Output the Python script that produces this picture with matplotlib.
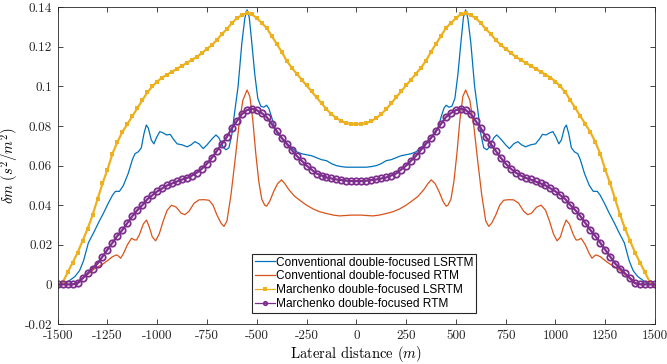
import matplotlib
matplotlib.use("Agg")
import matplotlib.pyplot as plt
import numpy as np

# left half of each curve (x <= 0), mirrored for the right half
x_grid = list(range(-1500, 1, 25))

march_lsrtm = [-0.001, 0.001, 0.006, 0.011, 0.016, 0.022, 0.028, 0.035, 0.043, 0.051,
               0.058, 0.066, 0.072, 0.077, 0.081, 0.085, 0.089, 0.093, 0.097, 0.100,
               0.1025, 0.1045, 0.106, 0.1075, 0.109, 0.1105, 0.112, 0.1135, 0.115, 0.117,
               0.119, 0.121, 0.1235, 0.1265, 0.129, 0.132, 0.1345, 0.136, 0.137, 0.1365,
               0.1345, 0.132, 0.1295, 0.1255, 0.1215, 0.1175, 0.113, 0.1095, 0.1065, 0.1035,
               0.1005, 0.0975, 0.0945, 0.0915, 0.0885, 0.086, 0.084, 0.0825, 0.0815, 0.081,
               0.081]

march_rtm = [0, 0, 0, 0, 0.0005, 0.003, 0.0055, 0.008, 0.0105, 0.014,
             0.0175, 0.021, 0.0245, 0.0275, 0.031, 0.0345, 0.0375, 0.040, 0.043, 0.045,
             0.047, 0.0485, 0.050, 0.051, 0.052, 0.053, 0.0538, 0.055, 0.0565, 0.0585,
             0.061, 0.064, 0.0675, 0.071, 0.0745, 0.079, 0.0825, 0.086, 0.088, 0.0888,
             0.088, 0.0865, 0.0845, 0.081, 0.0775, 0.074, 0.071, 0.068, 0.065, 0.0625,
             0.060, 0.058, 0.056, 0.055, 0.054, 0.0535, 0.053, 0.0527, 0.0524, 0.0522,
             0.0522]

conv_lsrtm_x = [-1500, -1475, -1460, -1440, -1413, -1390, -1370, -1346, -1320, -1296,
                -1270, -1246, -1225, -1210, -1190, -1170, -1146, -1125, -1112, -1095,
                -1080, -1067, -1055, -1045, -1030, -1017, -1002, -987, -970, -953,
                -935, -920, -900, -875, -850, -830, -811, -790, -769, -750,
                -725, -705, -690, -670, -655, -640, -625, -610, -594, -575,
                -560, -549, -538, -525, -510, -495, -480, -465, -451, -440,
                -427, -410, -395, -375, -350, -325, -300, -275, -250, -225,
                -200, -175, -150, -125, -100, -75, -50, -25, 0]
conv_lsrtm = [0, 0, 0.0005, 0.002, 0.004, 0.007, 0.012, 0.021, 0.026, 0.031,
              0.036, 0.041, 0.045, 0.047, 0.047, 0.050, 0.056, 0.063, 0.066, 0.067,
              0.069, 0.076, 0.0805, 0.079, 0.073, 0.071, 0.0745, 0.0772, 0.0765, 0.0755,
              0.0758, 0.0735, 0.071, 0.0705, 0.0695, 0.0705, 0.0721, 0.071, 0.0686, 0.0705,
              0.0735, 0.0755, 0.074, 0.0695, 0.068, 0.069, 0.076, 0.088, 0.100, 0.122,
              0.1345, 0.1387, 0.135, 0.122, 0.106, 0.094, 0.090, 0.0895, 0.0905, 0.089,
              0.085, 0.079, 0.076, 0.074, 0.0715, 0.069, 0.067, 0.066, 0.0655, 0.065,
              0.064, 0.063, 0.0625, 0.061, 0.060, 0.0595, 0.0592, 0.0592, 0.0592]

conv_rtm_x = [-1500, -1475, -1450, -1420, -1400, -1380, -1350, -1320, -1296, -1270,
              -1246, -1225, -1204, -1195, -1184, -1170, -1150, -1129, -1115, -1104,
              -1090, -1070, -1054, -1040, -1025, -1008, -990, -970, -950, -928,
              -905, -880, -861, -840, -815, -790, -765, -740, -720, -700,
              -680, -665, -650, -630, -610, -590, -570, -549, -535, -520,
              -505, -490, -475, -460, -451, -435, -415, -395, -376, -360,
              -340, -310, -284, -250, -215, -184, -150, -115, -84, -50, -25, 0]
conv_rtm = [0, 0, 0, 0, 0.001, 0.003, 0.005, 0.0075, 0.009, 0.0105,
            0.0123, 0.014, 0.0149, 0.0143, 0.0132, 0.0155, 0.020, 0.0233, 0.0225, 0.0224,
            0.025, 0.0305, 0.0325, 0.029, 0.024, 0.022, 0.0255, 0.032, 0.0375, 0.040,
            0.039, 0.036, 0.0352, 0.037, 0.041, 0.0427, 0.0428, 0.0425, 0.040, 0.035,
            0.031, 0.0293, 0.032, 0.045, 0.062, 0.080, 0.093, 0.0982, 0.095, 0.083,
            0.066, 0.052, 0.043, 0.040, 0.0395, 0.042, 0.047, 0.051, 0.0528, 0.051,
            0.048, 0.0445, 0.0425, 0.040, 0.038, 0.0367, 0.0358, 0.035, 0.0346, 0.0348, 0.035, 0.035]

labels = ["Conventional double-focused LSRTM", "Conventional double-focused RTM",
          "Marchenko double-focused LSRTM", "Marchenko double-focused RTM"]
xticks = [-1500, -1250, -1000, -750, -500, -250, 0, 250, 500, 750, 1000, 1250, 1500]
yticks = [-0.02, 0, 0.02, 0.04, 0.06, 0.08, 0.1, 0.12, 0.14]
ytick_labels = ["-0.02", "0", "0.02", "0.04", "0.06", "0.08", "0.1", "0.12", "0.14"]


def mirror(x, y):
    x = np.asarray(x, float)
    y = np.asarray(y, float)
    return np.concatenate([x, -x[-2::-1]]), np.concatenate([y, y[-2::-1]])


plt.rcParams['font.family'] = 'serif'
plt.rcParams['font.serif'] = ['cmr10', 'DejaVu Serif']
plt.rcParams['mathtext.fontset'] = 'cm'
plt.rcParams['axes.unicode_minus'] = False

fig = plt.figure(figsize=(6.67, 3.64), dpi=100)
ax = fig.add_axes([0.0865, 0.11, 0.8955, 0.87])

xb, yb = mirror(conv_lsrtm_x, conv_lsrtm)
xr, yr = mirror(conv_rtm_x, conv_rtm)
xo, yo = mirror(x_grid, march_lsrtm)
xp, yp = mirror(x_grid, march_rtm)

ax.plot(xb, yb, color='#0072BD', lw=0.9, label=labels[0])
ax.plot(xr, yr, color='#D95319', lw=0.9, label=labels[1])
ax.plot(xo, yo, color='#EDB120', lw=1.6, marker='s', ms=2.8, mew=0,
        label=labels[2])
ax.plot(xp, yp, color='#7E2F8E', lw=1.6, marker='o', ms=4.6, mfc='none',
        mew=1.3, label=labels[3])

ax.set_xlim(-1500, 1500)
ax.set_ylim(-0.02, 0.14)
ax.set_xticks(xticks)
ax.set_xticklabels([str(t) for t in xticks])
ax.set_yticks(yticks)
ax.set_yticklabels(ytick_labels)
ax.tick_params(direction='in', top=True, right=True, length=3.5, width=0.6,
               colors='#262626', labelsize=9.5, pad=4)
for s in ax.spines.values():
    s.set_linewidth(0.6)
    s.set_color('#262626')

ax.set_xlabel(r'Lateral distance ($m$)', fontsize=10.5, labelpad=2)
ax.set_ylabel(r'$\delta m\ (s^2/m^2)$', fontsize=10.5, labelpad=3)

leg = ax.legend(loc='lower left', bbox_to_anchor=(0.326, 0.035), fancybox=False,
                prop={'family': 'Liberation Sans', 'size': 8.6}, handlelength=1.6,
                handletextpad=0.1, borderpad=0.25, labelspacing=0.15,
                borderaxespad=0, framealpha=1)
leg.get_frame().set_edgecolor('#262626')
leg.get_frame().set_linewidth(0.8)
for h in leg.legend_handles[2:]:
    h.set_markersize(2.5)
    h.set_linewidth(0.9)

fig.savefig('out.png', dpi=100)
